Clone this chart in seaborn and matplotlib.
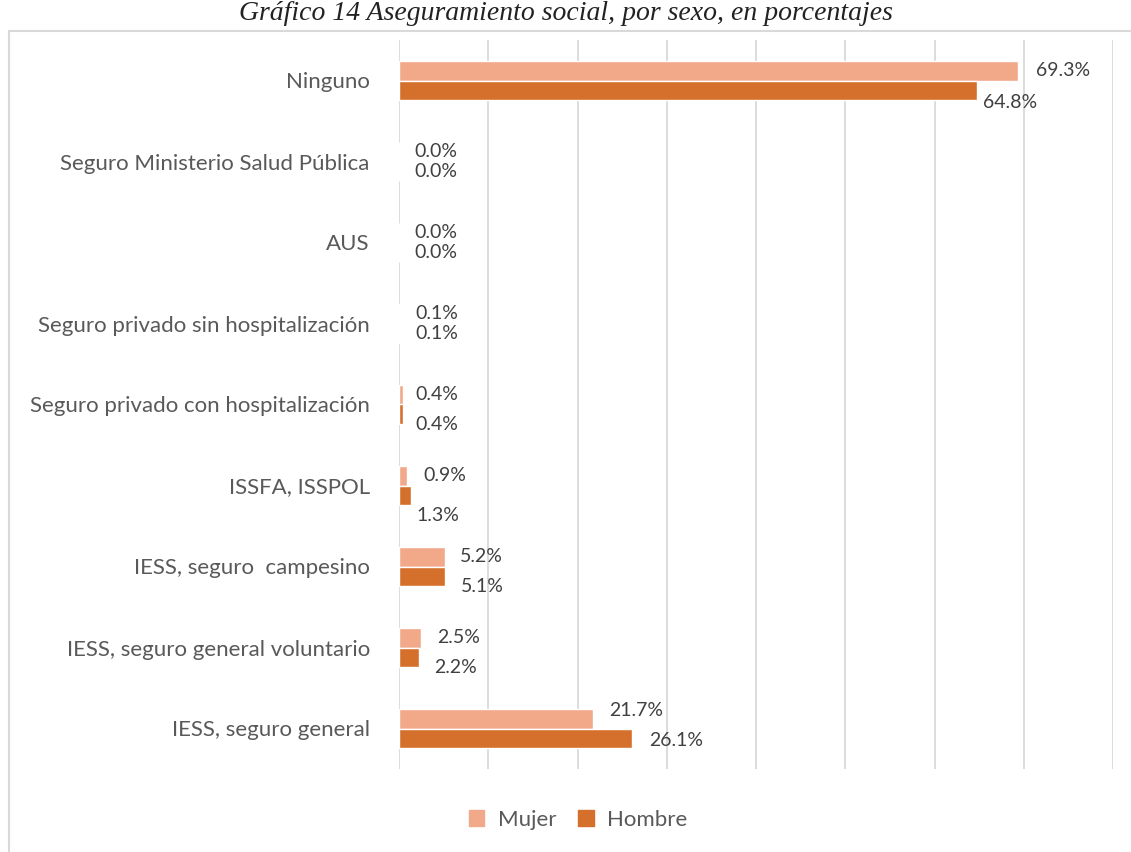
import numpy as np
import pandas as pd
import matplotlib
matplotlib.use("Agg")
import matplotlib.pyplot as plt
from matplotlib.patches import Rectangle
import seaborn as sns

# -----------------------------------------------------------
# Data
# -----------------------------------------------------------
categorias = [
    "Ninguno",
    "Seguro Ministerio Salud Pública",
    "AUS",
    "Seguro privado sin hospitalización",
    "Seguro privado con hospitalización",
    "ISSFA, ISSPOL",
    "IESS, seguro  campesino",
    "IESS, seguro general voluntario",
    "IESS, seguro general",
]
mujer = [69.3, 0.0, 0.0, 0.1, 0.4, 0.9, 5.2, 2.5, 21.7]
hombre = [64.8, 0.0, 0.0, 0.1, 0.4, 1.3, 5.1, 2.2, 26.1]
series = ["Mujer", "Hombre"]

# label nudges (pixels) -- the original had a few labels pushed around
dx_mujer = [18, 15, 15, 15, 13, 16, 15, 16, 16]
dy_mujer = [0, 0, 0, 0, 0, 0, 0, 0, 8]
dx_hombre = [6, 15, 15, 15, 13, 6, 16, 16, 17]
dy_hombre = [-12, 0, 0, 0, -10, -20, -10, -10, -2]

df = pd.DataFrame({
    "categoria": categorias * 2,
    "valor": mujer + hombre,
    "sexo": [series[0]] * len(categorias) + [series[1]] * len(categorias),
})

# -----------------------------------------------------------
# Plot
# -----------------------------------------------------------
sns.set_style("white")
plt.rcParams["font.family"] = ["Lato", "DejaVu Sans"]

colores = {"Mujer": "#F2A98A", "Hombre": "#D4702B"}

fig = plt.figure(figsize=(11.31, 8.52), dpi=100)
ax = fig.add_axes([399 / 1131, 1 - 769 / 852, (1113 - 399) / 1131, (769 - 40) / 852])

sns.barplot(data=df, y="categoria", x="valor", hue="sexo", order=categorias,
            hue_order=series, palette=colores, orient="h", width=0.47,
            saturation=1, legend=False, ax=ax)

ax.set_xlim(0, 80)
ax.set_xticks(np.arange(0, 81, 10))
ax.set_xticklabels([])
ax.tick_params(axis="x", length=0)
ax.tick_params(axis="y", length=0, pad=21, labelsize=16, labelcolor="#595959")
ax.grid(axis="x", color="#D9D9D9", linewidth=1.3)
ax.set_axisbelow(True)
ax.set_xlabel("")
ax.set_ylabel("")
for s in ax.spines.values():
    s.set_visible(False)

# data labels
for cont, vals, dxs, dys in [(ax.containers[0], mujer, dx_mujer, dy_mujer),
                             (ax.containers[1], hombre, dx_hombre, dy_hombre)]:
    for bar, v, dx, dy in zip(cont, vals, dxs, dys):
        yc = bar.get_y() + bar.get_height() / 2
        ax.annotate(f"{v:.1f}%", (bar.get_width(), yc), xytext=(dx, dy),
                    textcoords="offset pixels", ha="left", va="center",
                    fontsize=14, color="#404040")

# legend
handles = [plt.Rectangle((0, 0), 1, 1, color=colores[s]) for s in series]
fig.legend(handles, series, loc="center", bbox_to_anchor=(578 / 1131, 1 - 820 / 852),
           ncol=2, frameon=False, fontsize=16, handlelength=0.7, handleheight=0.7,
           columnspacing=1.0, handletextpad=0.6, labelcolor="#595959")

# chart frame (runs off the right and bottom edges like the source crop)
fig.patches.append(Rectangle((9 / 1131, -0.05), 1.1, 1 - 31 / 852 + 0.05,
                             transform=fig.transFigure, fill=False,
                             edgecolor="#D9D9D9", linewidth=1.5))

# title (sits just above the chart frame)
fig.text(0.5, 1 - 1 / 852, "Gráfico 14 Aseguramiento social, por sexo, en porcentajes",
         ha="center", va="top", fontsize=20, style="italic",
         family=["Liberation Serif", "DejaVu Serif"], color="#222222")

fig.savefig("out.png", dpi=100)
